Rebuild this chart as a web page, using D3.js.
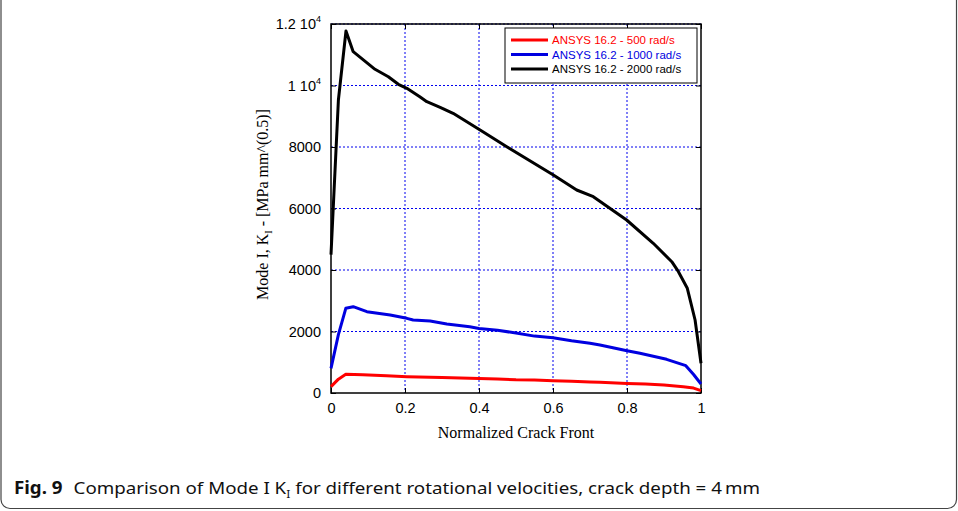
<!DOCTYPE html>
<html><head><meta charset="utf-8">
<script src="https://cdn.jsdelivr.net/npm/d3@7"></script>
<style>body{margin:0;background:#fff}</style>
</head><body>
<svg id="c" width="958" height="511"></svg>
<script>
const xTicks = [0, 0.2, 0.4, 0.6, 0.8, 1];
const yTicks = [0, 2000, 4000, 6000, 8000, 10000, 12000];
const seriesNames = ["ANSYS 16.2 - 500 rad/s", "ANSYS 16.2 - 1000 rad/s", "ANSYS 16.2 - 2000 rad/s"];
const seriesColors = ["#ff0000", "#0000e0", "#000000"];
const x500 = [0, 0.02, 0.04, 0.086, 0.15, 0.205, 0.3, 0.375, 0.45, 0.5, 0.55, 0.6, 0.65, 0.7, 0.727, 0.8, 0.85, 0.9, 0.952, 0.98, 1];
const k500 = [206, 450, 607, 590, 560, 531, 505, 477, 455, 430, 420, 400, 380, 360, 347, 310, 290, 260, 206, 160, 76];
const x1000 = [0, 0.02, 0.04, 0.06, 0.097, 0.16, 0.205, 0.222, 0.268, 0.313, 0.375, 0.4, 0.45, 0.5, 0.55, 0.6, 0.65, 0.7, 0.727, 0.8, 0.835, 0.907, 0.959, 0.98, 1];
const k1000 = [803, 1900, 2754, 2807, 2644, 2537, 2428, 2374, 2341, 2244, 2157, 2100, 2040, 1950, 1850, 1800, 1700, 1620, 1561, 1376, 1290, 1095, 889, 600, 293];
const x2000 = [0, 0.02, 0.0405, 0.06, 0.119, 0.155, 0.182, 0.205, 0.24, 0.259, 0.295, 0.33, 0.403, 0.475, 0.601, 0.664, 0.709, 0.799, 0.871, 0.921, 0.939, 0.963, 0.984, 1];
const k2000 = [4500, 9528, 11772, 11100, 10527, 10286, 10039, 9909, 9636, 9474, 9290, 9096, 8553, 8010, 7090, 6602, 6384, 5626, 4868, 4270, 3945, 3404, 2374, 966];

const svg = d3.select("#c");
// outer frame
svg.append("rect").attr("x", 1).attr("y", -10).attr("width", 955.5).attr("height", 518.5)
  .attr("rx", 9).attr("fill", "none").attr("stroke", "#444").attr("stroke-width", 1.2);

const L = 331, R = 701, T = 24, B = 393;
const x = d3.scaleLinear().domain([0, 1]).range([L, R]);
const y = d3.scaleLinear().domain([0, 12000]).range([B, T]);

const g = svg.append("g");
// grid
g.selectAll(".gx").data(xTicks.slice(1, -1)).join("line")
  .attr("x1", d => x(d)).attr("x2", d => x(d)).attr("y1", T).attr("y2", B)
  .attr("stroke", "#0000ee").attr("stroke-width", 1).attr("stroke-dasharray", "2,2");
g.selectAll(".gy").data(yTicks.slice(1)).join("line")
  .attr("x1", L).attr("x2", R).attr("y1", d => y(d)).attr("y2", d => y(d))
  .attr("stroke", "#0000ee").attr("stroke-width", 1).attr("stroke-dasharray", "2,2");

// axes (inward ticks)
const xa = g.append("g").attr("transform", `translate(0,${B})`)
  .call(d3.axisBottom(x).tickValues(xTicks).tickSize(-5).tickPadding(10).tickFormat(d3.format("")));
const xa2 = g.append("g").attr("transform", `translate(0,${T})`)
  .call(d3.axisTop(x).tickValues(xTicks).tickSize(-5).tickFormat(""));
const ya = g.append("g").attr("transform", `translate(${L},0)`)
  .call(d3.axisLeft(y).tickValues(yTicks).tickSize(-5).tickPadding(10).tickFormat(d => d >= 10000 ? "" : d));
const ya2 = g.append("g").attr("transform", `translate(${R},0)`)
  .call(d3.axisRight(y).tickValues(yTicks).tickSize(-5).tickFormat(""));
[xa, xa2, ya, ya2].forEach(a => {
  a.select(".domain").remove();
  a.selectAll("line").attr("stroke", "#000");
  a.selectAll("text").attr("font-family", "Liberation Sans, Arial").attr("font-size", 14.5).attr("fill", "#000");
});
// box
g.append("rect").attr("x", L).attr("y", T).attr("width", R - L).attr("height", B - T)
  .attr("fill", "none").attr("stroke", "#000").attr("stroke-width", 1.5);

// 10^4 labels
yTicks.filter(d => d >= 10000).forEach(d => {
  const t = g.append("text").attr("x", L - 10).attr("y", y(d) + 5).attr("text-anchor", "end")
    .attr("font-family", "Liberation Sans, Arial").attr("font-size", 14.5);
  t.append("tspan").text((d / 10000) + " 10");
  t.append("tspan").attr("font-size", 9).attr("dy", -7).text("4");
});

// lines
const data = [[x500, k500], [x1000, k1000], [x2000, k2000]];
const line = d3.line().x(d => x(d[0])).y(d => y(d[1]));
data.forEach((s, i) => {
  g.append("path").datum(s[0].map((v, j) => [v, s[1][j]]))
    .attr("d", line).attr("fill", "none").attr("stroke", seriesColors[i])
    .attr("stroke-width", 3).attr("stroke-linejoin", "round");
});

// legend
const lg = g.append("g");
lg.append("rect").attr("x", 505).attr("y", 28).attr("width", 192).attr("height", 55)
  .attr("fill", "#fff").attr("stroke", "#000").attr("stroke-width", 1);
seriesNames.forEach((n, i) => {
  const yy = 40 + i * 14.5;
  lg.append("line").attr("x1", 511).attr("x2", 548).attr("y1", yy).attr("y2", yy)
    .attr("stroke", seriesColors[i]).attr("stroke-width", 3);
  lg.append("text").attr("x", 552).attr("y", yy + 4).text(n).attr("fill", seriesColors[i])
    .attr("font-family", "Liberation Sans, Arial").attr("font-size", 11.5);
});

// axis titles
svg.append("text").attr("x", (L + R) / 2).attr("y", 438).attr("text-anchor", "middle")
  .attr("font-family", "Liberation Serif, Times New Roman").attr("font-size", 16).text("Normalized Crack Front");
const yl = svg.append("text").attr("transform", `translate(268,${(T + B) / 2 - 4}) rotate(-90)`)
  .attr("text-anchor", "middle").attr("font-family", "Liberation Serif, Times New Roman").attr("font-size", 16);
yl.append("tspan").text("Mode I, K");
yl.append("tspan").attr("font-size", 10).attr("dy", 4).text("I");
yl.append("tspan").attr("dy", -4).text(" - [MPa mm^(0.5)]");

// caption
const cap = svg.append("text").attr("x", 14).attr("y", 494)
  .attr("font-family", "Noto Sans, Open Sans").attr("font-size", 17).attr("fill", "#111");
cap.append("tspan").attr("font-weight", "bold").text("Fig. 9");
cap.append("tspan").attr("dx", 10).text("Comparison of Mode I K");
cap.append("tspan").attr("font-size", 11).attr("dy", 4).text("I");
cap.append("tspan").attr("dy", -4).text(" for different rotational velocities, crack depth = 4\u2009mm");
cap.attr("textLength", 746).attr("lengthAdjust", "spacingAndGlyphs");
</script>
</body></html>
